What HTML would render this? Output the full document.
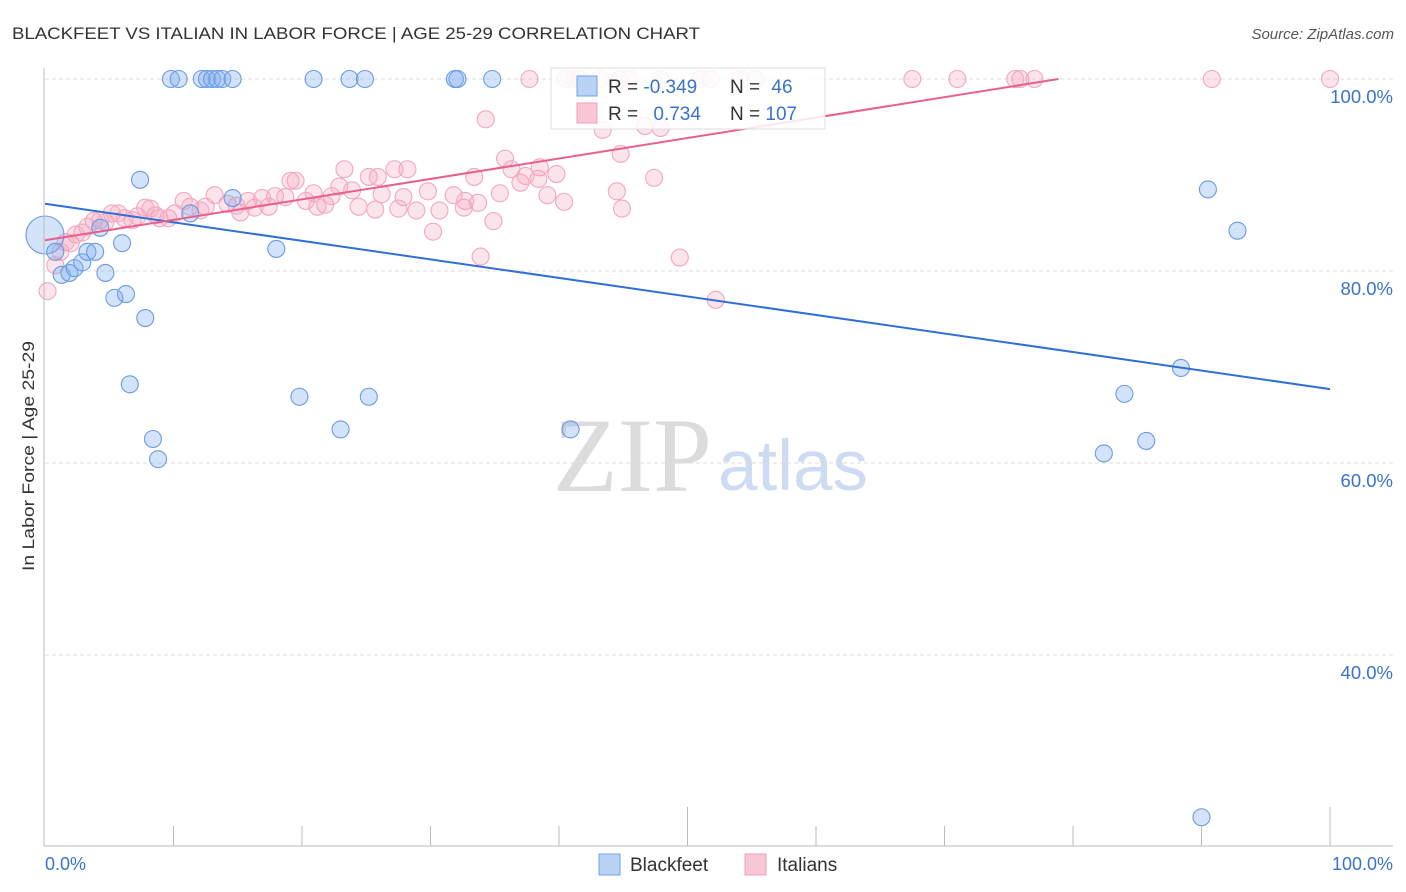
<!DOCTYPE html>
<html><head><meta charset="utf-8"><style>
body{margin:0;background:#fff;font-family:"Liberation Sans",sans-serif;}
svg{display:block}
</style></head><body>
<svg id="chart" width="1406" height="892">
<text x="12" y="39" font-size="17" fill="#333" textLength="688" lengthAdjust="spacingAndGlyphs">BLACKFEET VS ITALIAN IN LABOR FORCE | AGE 25-29 CORRELATION CHART</text>
<text x="1394" y="39" font-size="15" fill="#555" font-style="italic" text-anchor="end">Source: ZipAtlas.com</text>
<text x="553" y="491" font-size="106" fill="#dcdcdc" font-family="Liberation Serif,serif">ZIP</text>
<text x="718" y="490" font-size="71" fill="#cddcf2">atlas</text>
<text transform="translate(34,456) rotate(-90)" font-size="17" fill="#333" text-anchor="middle" textLength="230" lengthAdjust="spacingAndGlyphs">In Labor Force | Age 25-29</text>
<g id="grid"></g><g id="ticks"></g><g id="pts"></g><g id="lines"></g>
<line x1="44" y1="68" x2="44" y2="846" stroke="#bbb"/>
<line x1="44" y1="846" x2="1393" y2="846" stroke="#bbb"/>
<text x="45" y="870" font-size="18" fill="#3a73cc">0.0%</text>
<text x="1393" y="870" font-size="18" fill="#3a73cc" text-anchor="end">100.0%</text>
<g>
<rect x="551" y="68" width="274" height="61" fill="#fff" fill-opacity="0.85" stroke="#ddd"/>
<rect x="577" y="76" width="20" height="20" fill="#b8d3f5" stroke="#6fa0e6"/>
<rect x="577" y="103" width="20" height="20" fill="#f9c6d5" stroke="#f0a0bb"/>
<text x="608" y="93" font-size="19" fill="#333">R = <tspan fill="#3a73cc">-0.349</tspan></text>
<text x="730" y="93" font-size="19" fill="#333">N = <tspan fill="#3a73cc" dx="6">46</tspan></text>
<text x="608" y="120" font-size="19" fill="#333">R = <tspan fill="#3a73cc" dx="10">0.734</tspan></text>
<text x="730" y="120" font-size="19" fill="#333">N = <tspan fill="#3a73cc">107</tspan></text>
</g>
<g><rect x="599" y="854" width="21" height="21" fill="#b8d3f5" stroke="#6fa0e6"/><text x="630" y="871" font-size="19" fill="#333">Blackfeet</text></g>
<g><rect x="745" y="854" width="21" height="21" fill="#f9c6d5" stroke="#f0a0bb"/><text x="777" y="871" font-size="19" fill="#333">Italians</text></g>
</svg>
<script>
const yTicks=[100,80,60,40];
const yTickLabels=["100.0%","80.0%","60.0%","40.0%"];
const xTicks=[10,20,30,40,50,60,70,80,90,100];
const blackX=[0,0.8,1.3,1.9,2.3,2.9,3.3,3.9,4.3,4.7,5.4,6.0,6.3,7.4,7.8,6.6,8.4,8.8,9.8,10.4,12.2,12.6,13.0,13.4,13.8,14.6,20.9,23.7,24.9,31.9,32.1,34.8,11.3,14.6,18.0,19.8,23.0,25.2,40.9,82.4,84.0,85.7,88.4,90.5,92.8,90.0];
const blackY=[83.75,82.0,79.6,79.8,80.3,80.9,82.0,82.0,84.5,79.8,77.2,82.9,77.6,89.5,75.1,68.2,62.5,60.4,100,100,100,100,100,100,100,100,100,100,100,100,100,100,86.0,87.6,82.3,66.9,63.5,66.9,63.5,61.0,67.2,62.3,69.9,88.5,84.2,23.1];
const italX=[37.7,40.5,41.2,41.6,43.2,44.7,45.5,47.9,51.0,51.8,54.1,55.3,67.5,71.0,75.5,75.9,77.0,90.8,100,
34.3,43.4,46.7,47.9,44.8,35.8,23.3,27.2,28.2,36.3,38.5,33.4,39.8,47.4,19.1,19.5,25.2,25.9,37.4,38.4,37.0,29.8,35.4,39.1,40.4,44.5,44.9,31.8,32.7,30.7,27.5,27.9,26.2,24.4,22.9,23.9,22.3,20.9,20.3,21.2,21.8,18.7,17.9,16.9,16.3,15.8,15.2,14.9,14.2,13.2,12.5,12.1,11.3,10.8,10.1,9.6,8.9,8.6,8.2,7.8,7.2,6.8,6.2,5.7,5.2,4.7,4.3,3.8,3.3,2.9,2.4,2.0,1.6,1.2,0.8,0.2,30.2,33.9,34.9,49.4,52.2,33.7,32.6,28.9,25.7,17.4];
const italY=[100,100,100,100,100,100,100,100,100,100,100,100,100,100,100,100,100,100,100,
95.8,94.7,95.1,94.9,92.2,91.7,90.6,90.6,90.6,90.6,90.8,89.8,90.1,89.7,89.4,89.4,89.8,89.8,89.9,89.6,89.2,88.3,88.1,87.9,87.2,88.3,86.5,87.9,87.3,86.3,86.5,87.7,88.0,86.7,88.8,88.4,87.8,88.1,87.3,86.7,86.9,87.7,87.8,87.6,86.6,87.3,86.1,86.8,87.0,87.9,86.7,86.3,86.7,87.3,86.0,85.5,85.5,85.8,86.5,86.6,85.7,85.3,85.5,86.0,86.0,85.1,85.3,85.2,84.6,84.0,83.8,82.9,83.0,82.0,80.6,77.9,84.1,81.5,85.2,81.4,77.0,87.1,86.6,86.3,86.4,86.7];
const blueTrend=[87.0,67.7];
const pinkTrend=[83.2,104.5];
const NS="http://www.w3.org/2000/svg";
const X=v=>45+v*12.85, Y=v=>79+(100-v)*9.6;
function mk(tag,attrs,parent){const e=document.createElementNS(NS,tag);for(const k in attrs)e.setAttribute(k,attrs[k]);document.getElementById(parent).appendChild(e);return e;}
yTicks.forEach((t,i)=>{
 const l=mk('line',{x1:45,x2:1393,y1:Y(t),y2:Y(t),stroke:'#ddd','stroke-dasharray':'4,3'},'grid');
 
 
 const tx=mk('text',{x:1393,y:Y(t)+24,'font-size':18.5,fill:'#3a73cc','text-anchor':'end'},'grid');
 tx.textContent=yTickLabels[i];
 
 
});
xTicks.forEach(t=>{
 const l=mk('line',{x1:X(t),x2:X(t),y1:(t%50===0?807:826),y2:846,stroke:'#bbb'},'ticks');
 
 
});
italX.forEach((v,i)=>{
 const c=mk('circle',{cx:X(v),cy:Y(italY[i]),r:8.5,fill:'rgba(245,165,190,0.3)',stroke:'#f2a7c0','stroke-width':1.1},'pts');
 
 
});
blackX.forEach((v,i)=>{
 const c=mk('circle',{cx:X(v),cy:Y(blackY[i]),r:i===0?19:8.5,fill:'rgba(130,175,238,0.35)',stroke:'#6b9be2','stroke-width':1.1},'pts');
 
 
});
const bl=mk('line',{x1:X(0),y1:Y(blueTrend[0]),x2:X(100),y2:Y(blueTrend[1]),stroke:'#2f6fd6','stroke-width':2},'lines');


const xEnd=(100-pinkTrend[0])/(pinkTrend[1]-pinkTrend[0])*100;
const pl=mk('line',{x1:X(0),y1:Y(pinkTrend[0]),x2:X(xEnd),y2:Y(100),stroke:'#e8608e','stroke-width':2},'lines');


</script>
</body></html>
